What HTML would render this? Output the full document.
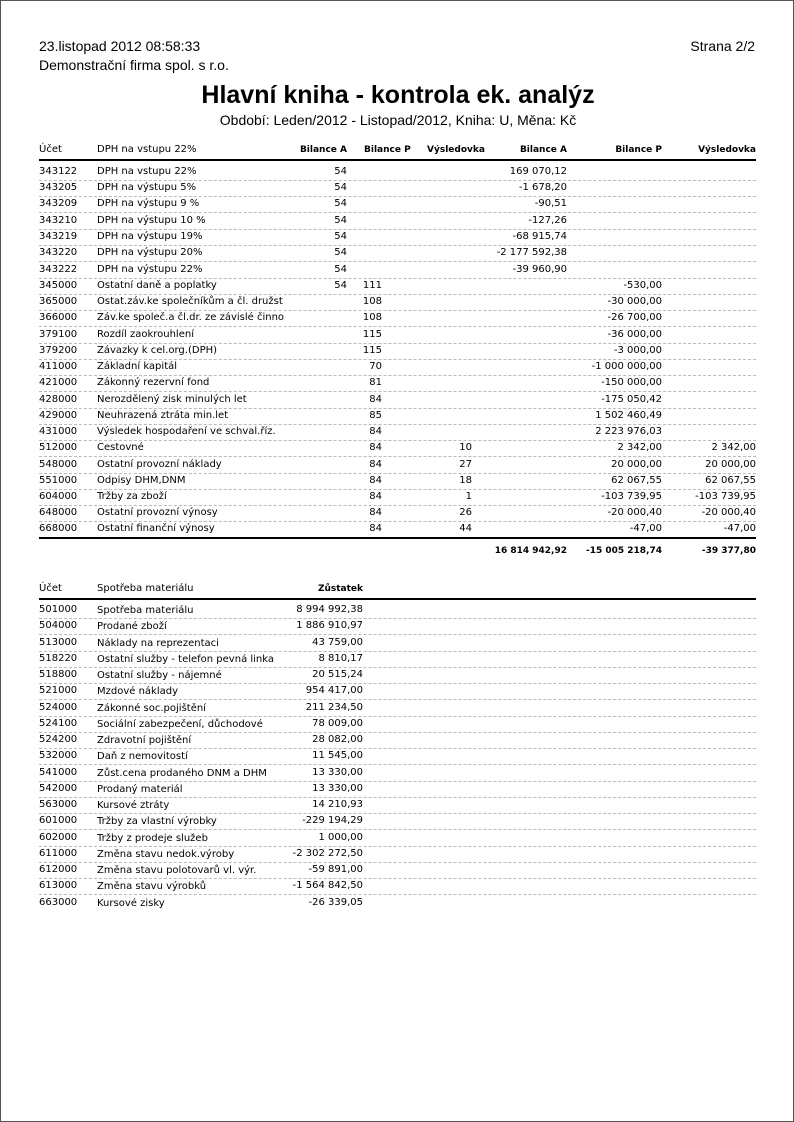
<!DOCTYPE html>
<html><head><meta charset="utf-8"><style>
body{margin:0;background:#fff;}
#p{position:relative;width:792px;height:1120px;border:1px solid #555;overflow:hidden;font-family:"DejaVu Sans","Liberation Sans",sans-serif;font-size:10px;color:#000;}
.t{position:absolute;white-space:nowrap;}
.h{font-family:"Liberation Sans",sans-serif;font-size:14px;}
.r{position:absolute;left:38px;width:717px;height:16px;border-bottom:1px dashed #bbb;}
.r span{position:absolute;top:2px;white-space:nowrap;}
.a{left:0}.n{left:58px}
.c1{right:409px}.c2{right:374px}.c3{right:284px}.c4{right:189px}.c5{right:94px}.c6{right:0}
.z{right:393px}
.b{font-weight:bold;font-size:9px}
</style></head><body><div id="p">
<div class="t h" style="left:38px;top:37px">23.listopad 2012 08:58:33</div>
<div class="t h" style="right:38px;top:37px">Strana 2/2</div>
<div class="t h" style="left:38px;top:56px">Demonstrační firma spol. s r.o.</div>
<div class="t" style="left:0;width:794px;text-align:center;top:80px;font-family:'Liberation Sans',sans-serif;font-weight:bold;font-size:25px">Hlavní kniha - kontrola ek. analýz</div>
<div class="t h" style="left:0;width:794px;text-align:center;top:111px">Období: Leden/2012 - Listopad/2012, Kniha: U, Měna: Kč</div>

<div class="r" style="top:140px;height:18px;border-bottom:2px solid #000"><span class="a" style="top:3px">Účet</span><span class="n" style="top:3px">DPH na vstupu 22%</span><span class="c1 b" style="top:4px">Bilance A</span><span class="b" style="left:325px;top:4px">Bilance P</span><span class="b" style="left:388px;top:4px">Výsledovka</span><span class="c4 b" style="top:4px">Bilance A</span><span class="c5 b" style="top:4px">Bilance P</span><span class="c6 b" style="top:4px">Výsledovka</span></div>

<div class="r" style="top:163px"><span class="a">343122</span><span class="n">DPH na vstupu 22%</span><span class="c1">54</span><span class="c4">169 070,12</span></div>
<div class="r" style="top:179px"><span class="a">343205</span><span class="n">DPH na výstupu 5%</span><span class="c1">54</span><span class="c4">-1 678,20</span></div>
<div class="r" style="top:195px"><span class="a">343209</span><span class="n">DPH na výstupu 9 %</span><span class="c1">54</span><span class="c4">-90,51</span></div>
<div class="r" style="top:212px"><span class="a">343210</span><span class="n">DPH na výstupu 10 %</span><span class="c1">54</span><span class="c4">-127,26</span></div>
<div class="r" style="top:228px"><span class="a">343219</span><span class="n">DPH na výstupu 19%</span><span class="c1">54</span><span class="c4">-68 915,74</span></div>
<div class="r" style="top:244px"><span class="a">343220</span><span class="n">DPH na výstupu 20%</span><span class="c1">54</span><span class="c4">-2 177 592,38</span></div>
<div class="r" style="top:261px"><span class="a">343222</span><span class="n">DPH na výstupu 22%</span><span class="c1">54</span><span class="c4">-39 960,90</span></div>
<div class="r" style="top:277px"><span class="a">345000</span><span class="n">Ostatní daně a poplatky</span><span class="c1">54</span><span class="c2">111</span><span class="c5">-530,00</span></div>
<div class="r" style="top:293px"><span class="a">365000</span><span class="n">Ostat.záv.ke společníkům a čl. družst</span><span class="c2">108</span><span class="c5">-30 000,00</span></div>
<div class="r" style="top:309px"><span class="a">366000</span><span class="n">Záv.ke společ.a čl.dr. ze závislé činno</span><span class="c2">108</span><span class="c5">-26 700,00</span></div>
<div class="r" style="top:326px"><span class="a">379100</span><span class="n">Rozdíl zaokrouhlení</span><span class="c2">115</span><span class="c5">-36 000,00</span></div>
<div class="r" style="top:342px"><span class="a">379200</span><span class="n">Závazky k cel.org.(DPH)</span><span class="c2">115</span><span class="c5">-3 000,00</span></div>
<div class="r" style="top:358px"><span class="a">411000</span><span class="n">Základní kapitál</span><span class="c2">70</span><span class="c5">-1 000 000,00</span></div>
<div class="r" style="top:374px"><span class="a">421000</span><span class="n">Zákonný rezervní fond</span><span class="c2">81</span><span class="c5">-150 000,00</span></div>
<div class="r" style="top:391px"><span class="a">428000</span><span class="n">Nerozdělený zisk minulých let</span><span class="c2">84</span><span class="c5">-175 050,42</span></div>
<div class="r" style="top:407px"><span class="a">429000</span><span class="n">Neuhrazená ztráta min.let</span><span class="c2">85</span><span class="c5">1 502 460,49</span></div>
<div class="r" style="top:423px"><span class="a">431000</span><span class="n">Výsledek hospodaření ve schval.říz.</span><span class="c2">84</span><span class="c5">2 223 976,03</span></div>
<div class="r" style="top:439px"><span class="a">512000</span><span class="n">Cestovné</span><span class="c2">84</span><span class="c3">10</span><span class="c5">2 342,00</span><span class="c6">2 342,00</span></div>
<div class="r" style="top:456px"><span class="a">548000</span><span class="n">Ostatní provozní náklady</span><span class="c2">84</span><span class="c3">27</span><span class="c5">20 000,00</span><span class="c6">20 000,00</span></div>
<div class="r" style="top:472px"><span class="a">551000</span><span class="n">Odpisy DHM,DNM</span><span class="c2">84</span><span class="c3">18</span><span class="c5">62 067,55</span><span class="c6">62 067,55</span></div>
<div class="r" style="top:488px"><span class="a">604000</span><span class="n">Tržby za zboží</span><span class="c2">84</span><span class="c3">1</span><span class="c5">-103 739,95</span><span class="c6">-103 739,95</span></div>
<div class="r" style="top:504px"><span class="a">648000</span><span class="n">Ostatní provozní výnosy</span><span class="c2">84</span><span class="c3">26</span><span class="c5">-20 000,40</span><span class="c6">-20 000,40</span></div>
<div class="r" style="top:520px;border-bottom:2px solid #000"><span class="a">668000</span><span class="n">Ostatní finanční výnosy</span><span class="c2">84</span><span class="c3">44</span><span class="c5">-47,00</span><span class="c6">-47,00</span></div>
<div class="r" style="top:543px;border:none"><span class="c4 b">16 814 942,92</span><span class="c5 b">-15 005 218,74</span><span class="c6 b">-39 377,80</span></div>

<div class="r" style="top:579px;height:18px;border-bottom:2px solid #000"><span class="a" style="top:3px">Účet</span><span class="n" style="top:3px">Spotřeba materiálu</span><span class="z b" style="top:4px">Zůstatek</span></div>
<div class="r" style="top:601px"><span class="a">501000</span><span class="n" style="top:3px">Spotřeba materiálu</span><span class="z">8 994 992,38</span></div>
<div class="r" style="top:617px"><span class="a">504000</span><span class="n" style="top:3px">Prodané zboží</span><span class="z">1 886 910,97</span></div>
<div class="r" style="top:634px"><span class="a">513000</span><span class="n" style="top:3px">Náklady na reprezentaci</span><span class="z">43 759,00</span></div>
<div class="r" style="top:650px"><span class="a">518220</span><span class="n" style="top:3px">Ostatní služby - telefon pevná linka</span><span class="z">8 810,17</span></div>
<div class="r" style="top:666px"><span class="a">518800</span><span class="n" style="top:3px">Ostatní služby - nájemné</span><span class="z">20 515,24</span></div>
<div class="r" style="top:682px"><span class="a">521000</span><span class="n" style="top:3px">Mzdové náklady</span><span class="z">954 417,00</span></div>
<div class="r" style="top:699px"><span class="a">524000</span><span class="n" style="top:3px">Zákonné soc.pojištění</span><span class="z">211 234,50</span></div>
<div class="r" style="top:715px"><span class="a">524100</span><span class="n" style="top:3px">Sociální zabezpečení, důchodové</span><span class="z">78 009,00</span></div>
<div class="r" style="top:731px"><span class="a">524200</span><span class="n" style="top:3px">Zdravotní pojištění</span><span class="z">28 082,00</span></div>
<div class="r" style="top:747px"><span class="a">532000</span><span class="n" style="top:3px">Daň z nemovitostí</span><span class="z">11 545,00</span></div>
<div class="r" style="top:764px"><span class="a">541000</span><span class="n" style="top:3px">Zůst.cena prodaného DNM a DHM</span><span class="z">13 330,00</span></div>
<div class="r" style="top:780px"><span class="a">542000</span><span class="n" style="top:3px">Prodaný materiál</span><span class="z">13 330,00</span></div>
<div class="r" style="top:796px"><span class="a">563000</span><span class="n" style="top:3px">Kursové ztráty</span><span class="z">14 210,93</span></div>
<div class="r" style="top:812px"><span class="a">601000</span><span class="n" style="top:3px">Tržby za vlastní výrobky</span><span class="z">-229 194,29</span></div>
<div class="r" style="top:829px"><span class="a">602000</span><span class="n" style="top:3px">Tržby z prodeje služeb</span><span class="z">1 000,00</span></div>
<div class="r" style="top:845px"><span class="a">611000</span><span class="n" style="top:3px">Změna stavu nedok.výroby</span><span class="z">-2 302 272,50</span></div>
<div class="r" style="top:861px"><span class="a">612000</span><span class="n" style="top:3px">Změna stavu polotovarů vl. výr.</span><span class="z">-59 891,00</span></div>
<div class="r" style="top:877px"><span class="a">613000</span><span class="n" style="top:3px">Změna stavu výrobků</span><span class="z">-1 564 842,50</span></div>
<div class="r" style="top:894px;border:none"><span class="a">663000</span><span class="n" style="top:3px">Kursové zisky</span><span class="z">-26 339,05</span></div>
</div></body></html>
